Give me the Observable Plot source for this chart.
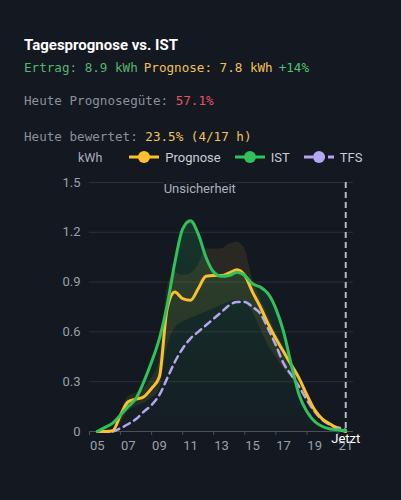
<!DOCTYPE html>
<html><head><meta charset="utf-8">
<script src="https://cdn.jsdelivr.net/npm/d3@7"></script>
<script src="https://cdn.jsdelivr.net/npm/@observablehq/plot@0.6"></script>
<style>
html,body{margin:0;padding:0;background:#141821;width:401px;height:500px;overflow:hidden;}
body{position:relative;font-family:Roboto,sans-serif;}
.title{position:absolute;left:24px;top:37px;line-height:16px;color:#fff;font-weight:700;font-size:15px;}
.mono{position:absolute;left:24px;font-family:"DejaVu Sans Mono",monospace;font-size:12.6px;line-height:14px;white-space:pre;display:flex;gap:6px;}
.legend{position:absolute;left:78px;top:150px;height:14px;display:flex;align-items:center;font-size:13px;color:#c9cdd3;}
.legend .unit{color:#aab0b8;font-size:12.5px;margin-right:27px;}
.legend .item{display:flex;align-items:center;gap:6px;margin-right:14px;}
#chart{position:absolute;left:0;top:165px;}
</style></head>
<body>
<div class="title" id="title"></div>
<div class="mono" id="l1" style="top:61px"></div>
<div class="mono" id="l2" style="top:94px"></div>
<div class="mono" id="l3" style="top:130px"></div>
<div class="legend" id="legend"></div>
<div id="chart"></div>
<script>
// ---- data ----
const hours = [5,5.5,6,6.5,7,7.5,8,8.5,9,9.5,10,10.5,11,11.5,12,12.5,13,13.5,14,14.5,15,15.5,16,16.5,17,17.5,18,18.5,19,19.5,20,20.5,21];
const ist = [0,0.025,0.05,0.1,0.15,0.2,0.3,0.42,0.56,0.76,1.02,1.22,1.27,1.19,1.05,0.96,0.935,0.94,0.96,0.94,0.89,0.87,0.83,0.74,0.6,0.4,0.22,0.12,0.06,0.03,0.015,0.01,0.005];
const prognose = [0,0,0.005,0.1,0.18,0.195,0.21,0.26,0.33,0.74,0.84,0.8,0.79,0.86,0.935,0.94,0.94,0.955,0.975,0.94,0.84,0.75,0.65,0.56,0.48,0.4,0.32,0.22,0.13,0.075,0.045,0.015,0];
const tfs = [null,null,0,0.02,0.045,0.075,0.12,0.16,0.22,0.32,0.42,0.5,0.56,0.6,0.64,0.68,0.72,0.76,0.78,0.78,0.75,0.71,0.62,0.52,0.41,0.34,0.27,0.19,0.12,0.07,0.04,0.025,0.01];
const bandLow = [0,0,0,0.05,0.12,0.15,0.17,0.2,0.25,0.5,0.62,0.66,0.68,0.7,0.72,0.74,0.76,0.78,0.79,0.78,0.72,0.62,0.52,0.45,0.38,0.32,0.25,0.17,0.1,0.06,0.03,0.01,0];
const bandHigh = [0,0,0.01,0.12,0.21,0.23,0.26,0.32,0.42,0.86,0.96,0.94,0.95,1.0,1.1,1.1,1.1,1.13,1.14,1.1,0.92,0.8,0.7,0.6,0.51,0.42,0.34,0.24,0.13,0.08,0.045,0.02,0];
const xLabelHours = [5,7,9,11,13,15,17,19,21];
const xTickHours = [4.5,6.5,8.5,10.5,12.5,14.5,16.5,18.5,20.5];
const yTicks = [0,0.3,0.6,0.9,1.2,1.5];
const yGrid = [0.3,0.6,0.9,1.2,1.5];
const nowHour = [21];
const bandLabel = [{text:"Unsicherheit", hour:11.6}];
const titleText = "Tagesprognose vs. IST";
const line1 = [["Ertrag: 8.9 kWh","#55b56f"],["Prognose: 7.8 kWh","#f0c15a"],["+14%","#4fc477"]];
const line2 = [["Heute Prognosegüte: ","#8b9099"],["57.1%","#e5555f"]];
const line3 = [["Heute bewertet: ","#8b9099"],["23.5% (4/17 h)","#f2c45c"]];
const legendItems = [["Prognose","#fbc02d",null],["IST","#2fc25b",null],["TFS","#b3a6f2","9,3"]];
const colors = {ist:"#2fc25b", prog:"#fbc02d", tfs:"#b3a6f2"};

// ---- header ----
document.getElementById("title").textContent = titleText;
function fill(id, parts, joined){
  const el = document.getElementById(id);
  if (joined){ el.style.gap = "0"; }
  for (const [t,c] of parts){ const s=document.createElement("span"); s.textContent=t; s.style.color=c; el.appendChild(s); }
}
fill("l1", line1, false);
fill("l2", line2, true);
fill("l3", line3, true);

// legend
const lg = document.getElementById("legend");
const u = document.createElement("span"); u.className="unit"; u.textContent="kWh"; lg.appendChild(u);
for (const [name,col,dash] of legendItems){
  const it = document.createElement("span"); it.className="item";
  it.innerHTML = `<svg width="30" height="14"><line x1="0" x2="30" y1="7" y2="7" stroke="${col}" stroke-width="3" ${dash?`stroke-dasharray="${dash}"`:""}/><circle cx="15" cy="7" r="6" fill="${col}"/></svg><span>${name}</span>`;
  lg.appendChild(it);
}

// ---- chart ----
const data = hours.map((h,i)=>({h, ist:ist[i], prog:prognose[i], tfs:tfs[i], lo:bandLow[i], hi:bandHigh[i]}));
const defs = () => {
  const ns = "http://www.w3.org/2000/svg";
  const d = document.createElementNS(ns,"defs");
  d.innerHTML = `<linearGradient id="gIst" x1="0" y1="0" x2="0" y2="1"><stop offset="0" stop-color="#22c55e" stop-opacity="0.17"/><stop offset="1" stop-color="#22c55e" stop-opacity="0.03"/></linearGradient>`;
  return d;
};
const chart = Plot.plot({
  width: 401, height: 300,
  marginLeft: 89, marginRight: 48, marginTop: 17, marginBottom: 34,
  style: {background:"transparent", color:"#9aa0a8", fontFamily:"Roboto, sans-serif", fontSize:"13px"},
  x: {domain:[4.5,21.5]},
  y: {domain:[0,1.5]},
  marks: [
    defs,
    Plot.gridY(yGrid, {stroke:"#2b3039", strokeOpacity:1}),
    Plot.areaY(data, {x:"h", y:"ist", fill:"url(#gIst)", curve:"monotone-x"}),
    Plot.areaY(data, {x:"h", y1:"lo", y2:"hi", fill:"#e8b93a", fillOpacity:0.1, curve:"monotone-x"}),
    Plot.ruleY([0], {stroke:"#4a4f58"}),
    Plot.axisX({ticks:xTickHours, tickSize:4, tickFormat:()=>"", stroke:"#4a4f58", label:null}),
    Plot.axisX({ticks:xLabelHours, tickSize:0, tickPadding:9, tickFormat:d=>String(d).padStart(2,"0"), fill:"#9aa0a8", label:null}),
    Plot.axisY({ticks:yTicks, tickSize:0, tickPadding:9, tickFormat:d=>d===0?"0":d.toFixed(1), fill:"#9aa0a8", label:null}),
    Plot.ruleX(nowHour, {stroke:"#b4b8bf", strokeWidth:2, strokeDasharray:"6,4"}),
    Plot.line(data, {x:"h", y:"tfs", stroke:colors.tfs, strokeWidth:2.5, strokeDasharray:"7,5", curve:"monotone-x"}),
    Plot.line(data, {x:"h", y:"prog", stroke:colors.prog, strokeWidth:3, curve:"monotone-x"}),
    Plot.line(data, {x:"h", y:"ist", stroke:colors.ist, strokeWidth:3, curve:"monotone-x"}),
    Plot.text(bandLabel, {x:"hour", text:"text", frameAnchor:"top", dy:1, fill:"#aab0b8", stroke:"#141821", strokeWidth:4, fontSize:13}),
    Plot.text(nowHour, {x:d=>d, text:()=>"Jetzt", frameAnchor:"bottom", dy:11, fill:"#ffffff", fontSize:13})
  ]
});
document.getElementById("chart").appendChild(chart);
</script>
</body></html>
